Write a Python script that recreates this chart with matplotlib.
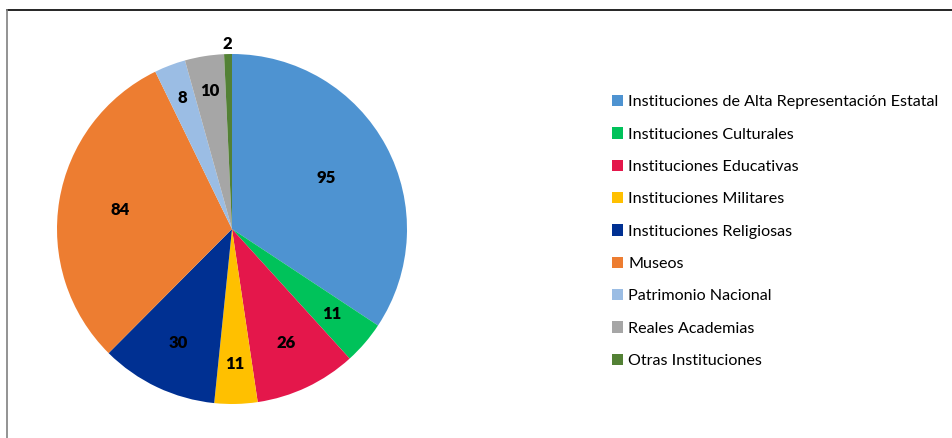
import matplotlib.pyplot as plt
from matplotlib.patches import Patch
import numpy as np

plt.rcParams['font.family'] = ['Lato', 'DejaVu Sans']

# categories and counts
categorias = ['Instituciones de Alta Representación Estatal',
              'Instituciones Culturales',
              'Instituciones Educativas',
              'Instituciones Militares',
              'Instituciones Religiosas',
              'Museos',
              'Patrimonio Nacional',
              'Reales Academias',
              'Otras Instituciones']
valores = [95, 11, 26, 11, 30, 84, 8, 10, 2]
colores = ['#4E93D1', '#00C25A', '#E4174B', '#FFC000', '#003092',
           '#ED7D31', '#9BBDE4', '#A6A6A6', '#538135']

# radial position of each value label (fraction of radius)
dist_etiqueta = [0.61, 0.75, 0.72, 0.77, 0.72, 0.65, 0.80, 0.80, 1.06]

W, H = 952, 438
fig = plt.figure(figsize=(W/100, H/100), dpi=100)

# frame lines (top and left)
fig.add_artist(plt.Line2D([7/W, 1], [1-10/H, 1-10/H], color='black', lw=1.2))
fig.add_artist(plt.Line2D([7/W, 7/W], [0, 1-10/H], color='#808080', lw=1.2))

cx, cy, r = 232, 229, 175
ax = fig.add_axes([(cx-r)/W, (H-cy-r)/H, 2*r/W, 2*r/H])
wedges, _ = ax.pie(valores, colors=colores, startangle=90, counterclock=False,
                   radius=1, wedgeprops=dict(linewidth=0))
ax.set_xlim(-1, 1)
ax.set_ylim(-1, 1)
ax.axis('off')
ax.set_aspect('auto')

for w, v, d in zip(wedges, valores, dist_etiqueta):
    ang = np.deg2rad((w.theta1 + w.theta2) / 2)
    ax.text(d*np.cos(ang), d*np.sin(ang), str(v), ha='center', va='center',
            fontsize=12, fontweight='heavy', color='black', clip_on=False)

handles = [Patch(facecolor=c, edgecolor='none') for c in colores]
fig.legend(handles, categorias, loc='upper left',
           bbox_to_anchor=(612/W, 1-95/H), frameon=False, fontsize=11.6,
           handlelength=0.7, handleheight=0.7, handletextpad=0.3,
           labelspacing=1.12, borderpad=0, borderaxespad=0)

fig.savefig('out.png', dpi=100)
